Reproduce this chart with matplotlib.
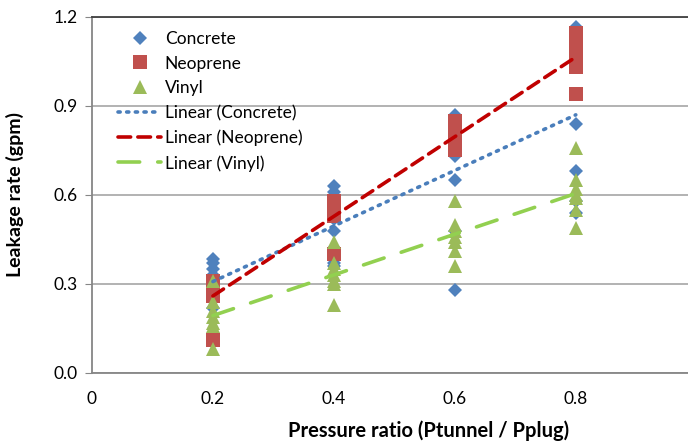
import numpy as np
import matplotlib
matplotlib.use("Agg")
import matplotlib.pyplot as plt

plt.rcParams['font.family'] = ['Lato', 'DejaVu Sans']

# pressure ratio levels
levels = [0.2, 0.4, 0.6, 0.8]

# leakage rate (gpm) per level
concrete = [
    [0.385, 0.37, 0.35, 0.33, 0.30, 0.27, 0.245, 0.22],
    [0.63, 0.61, 0.57, 0.52, 0.48, 0.42, 0.37, 0.36],
    [0.87, 0.85, 0.82, 0.78, 0.73, 0.65, 0.48, 0.28],
    [1.165, 1.12, 1.10, 0.94, 0.84, 0.68, 0.58, 0.54],
]
neoprene = [
    [0.31, 0.30, 0.28, 0.27, 0.26, 0.11],
    [0.58, 0.57, 0.56, 0.55, 0.53, 0.40],
    [0.85, 0.83, 0.81, 0.80, 0.78, 0.75],
    [1.145, 1.10, 1.08, 1.06, 1.03, 0.94],
]
vinyl = [
    [0.31, 0.24, 0.21, 0.19, 0.17, 0.16, 0.08],
    [0.44, 0.37, 0.35, 0.33, 0.31, 0.30, 0.23],
    [0.58, 0.50, 0.48, 0.46, 0.44, 0.41, 0.36],
    [0.76, 0.65, 0.62, 0.60, 0.59, 0.55, 0.49],
]

yticks = [0.0, 0.3, 0.6, 0.9, 1.2]
xticks = [0, 0.2, 0.4, 0.6, 0.8, 1]


def flatten(groups):
    xs, ys = [], []
    for x, vals in zip(levels, groups):
        xs += [x] * len(vals)
        ys += vals
    return np.array(xs), np.array(ys)


fig = plt.figure(figsize=(6.88, 4.45), dpi=100)
ax = fig.add_axes([0.1337, 0.1618, 0.879, 0.80])

series = [
    ("Concrete", concrete, 'D', 7.5, '#4F81BD'),
    ("Neoprene", neoprene, 's', 9.5, '#C0504D'),
    ("Vinyl", vinyl, '^', 10, '#9BBB59'),
]
for name, data, mk, ms, col in series:
    x, y = flatten(data)
    ax.plot(x, y, linestyle='none', marker=mk, markersize=ms, color=col,
            markeredgewidth=0, label=name, zorder=3)

trends = [
    ("Linear (Concrete)", concrete, '#4A7EBB', (0, (0.6, 1.8))),
    ("Linear (Neoprene)", neoprene, '#C00000', (0, (3.5, 2))),
    ("Linear (Vinyl)", vinyl, '#92D050', (0, (6, 5))),
]
for name, data, col, ls in trends:
    x, y = flatten(data)
    k, b = np.polyfit(x, y, 1)
    xx = np.array([min(levels), max(levels)])
    ax.plot(xx, k * xx + b, color=col, linestyle=ls, linewidth=2.6,
            dash_capstyle='round', label=name, zorder=4)

ax.set_xlim(0, 1)
ax.set_ylim(0, 1.2)
ax.set_yticks(yticks)
ax.set_yticklabels([f"{v:.1f}" for v in yticks])
ax.set_xticks(xticks)
ax.set_xticklabels([f"{v:g}" for v in xticks])
ax.yaxis.grid(True, color='#A6A6A6', linewidth=1.2)
ax.set_axisbelow(True)

for s in ['left', 'bottom']:
    ax.spines[s].set_color('#868686')
    ax.spines[s].set_linewidth(1.3)
ax.spines['top'].set_color('#404040')
ax.spines['top'].set_linewidth(1.3)
ax.spines['right'].set_visible(False)

ax.tick_params(axis='y', length=5, color='#868686', labelsize=12.5, pad=5)
ax.tick_params(axis='x', length=0, labelsize=12.5, pad=13)

ax.set_ylabel("Leakage rate (gpm)", fontsize=14, fontweight='bold', labelpad=8)
ax.yaxis.set_label_coords(-0.112, 0.5)
ax.set_xlabel("Pressure ratio (Ptunnel / Pplug)", fontsize=14.5, fontweight='bold')
ax.xaxis.set_label_coords(0.557, -0.133)

ax.legend(loc='upper left', bbox_to_anchor=(0.02, 1.0), frameon=False,
          fontsize=12.5, handlelength=2.5, handletextpad=0.2,
          labelspacing=0.5, borderaxespad=0.4)

fig.savefig("out.png", dpi=100)
